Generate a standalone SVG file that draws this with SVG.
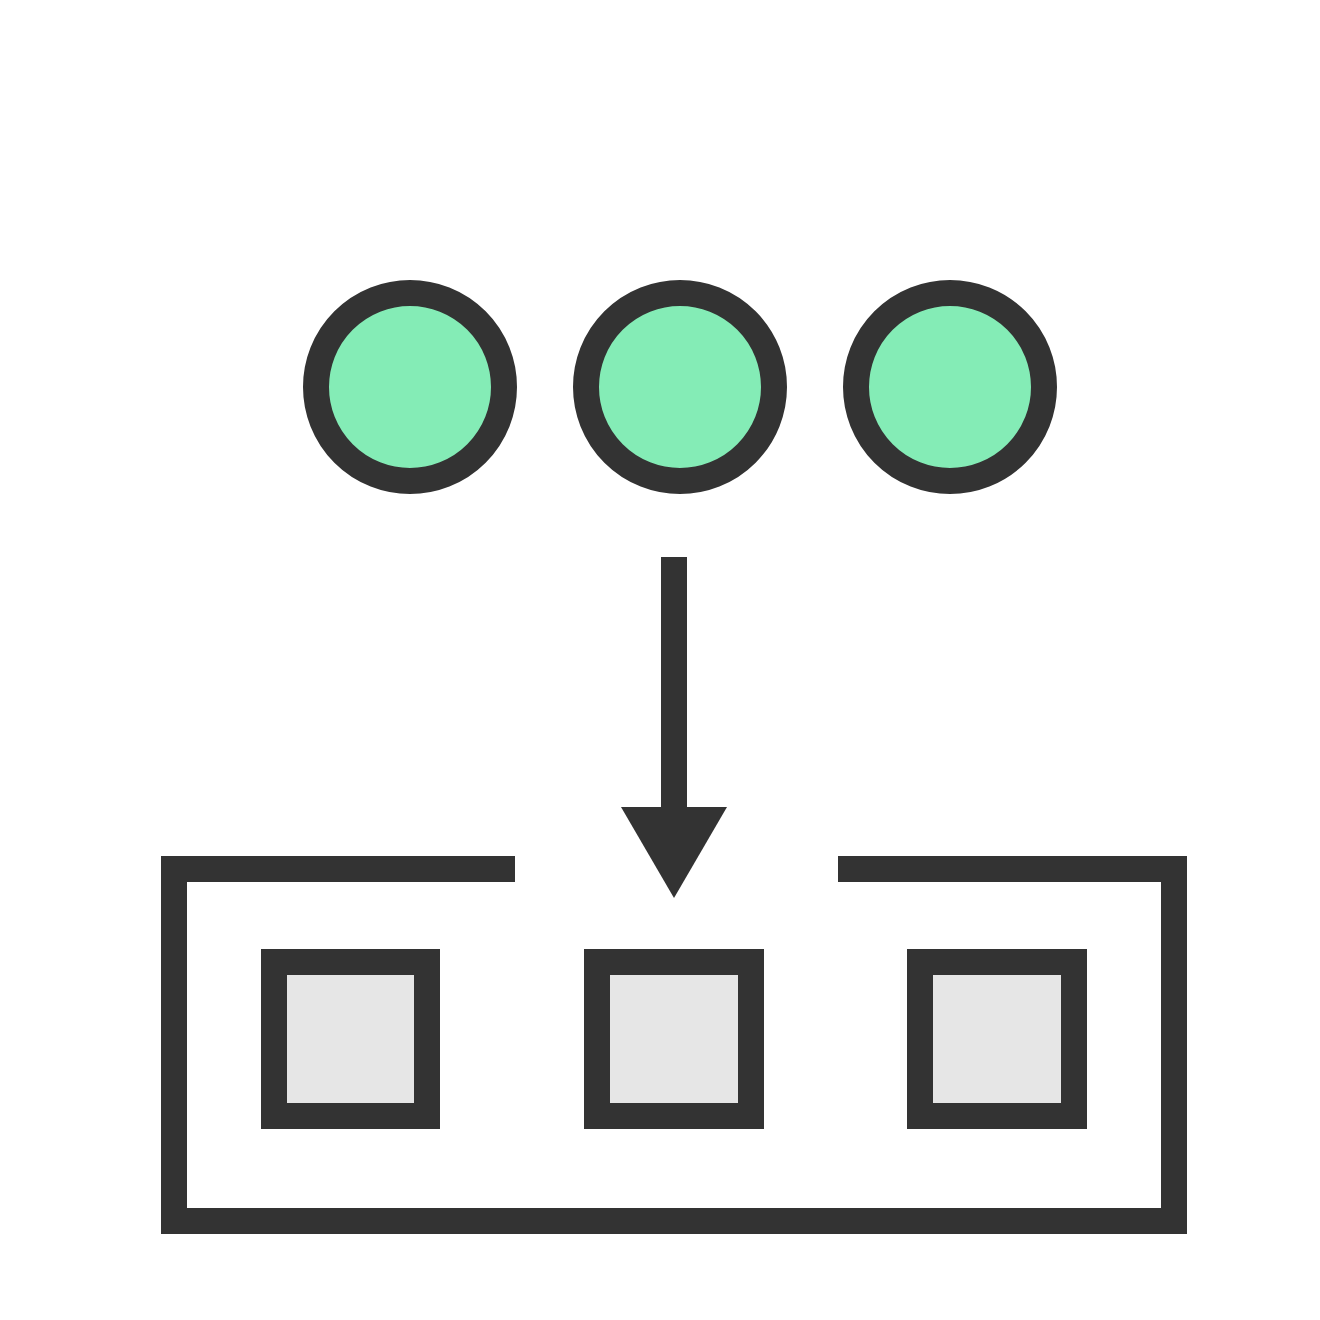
<svg xmlns="http://www.w3.org/2000/svg" width="1320" height="1320" viewBox="0 0 1320 1320">
<style>
.c{fill:#84ecb6;stroke:#333333;stroke-width:26}
.s{fill:#e6e6e6;stroke:#333333;stroke-width:26}
.l{fill:none;stroke:#333333;stroke-width:26;stroke-linejoin:miter}
</style>
<rect width="1320" height="1320" fill="#ffffff"/>
<g id="circle1"><circle class="c" cx="410" cy="387" r="94"/></g>
<g id="circle2"><circle class="c" cx="680" cy="387" r="94"/></g>
<g id="circle3"><circle class="c" cx="950" cy="387" r="94"/></g>
<g id="container"><path class="l" d="M515,869 H174 V1221 H1174 V869 H838"/></g>
<g id="square1"><rect class="s" x="274" y="962" width="153" height="154"/></g>
<g id="square2"><rect class="s" x="597" y="962" width="154" height="154"/></g>
<g id="square3"><rect class="s" x="920" y="962" width="154" height="154"/></g>
<g id="connectors">
<line class="l" x1="674" y1="557" x2="674" y2="810"/>
<polygon points="621,807 727,807 674,898" fill="#333333"/>
</g>
</svg>
